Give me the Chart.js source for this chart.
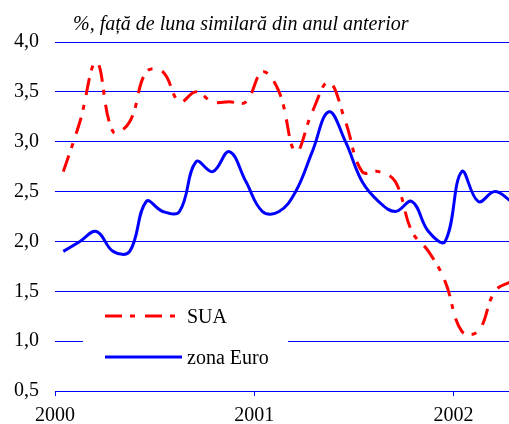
<!DOCTYPE html>
<html>
<head>
<meta charset="utf-8">
<script src="https://cdn.jsdelivr.net/npm/chart.js@4/dist/chart.umd.min.js"></script>
<style>
  html, body { margin: 0; padding: 0; background: #fff; }
  #wrap { width: 509px; height: 424px; position: relative; }
</style>
</head>
<body>
<div id="wrap"><canvas id="cpiChart"></canvas></div>
<script>
// inflatie anuala, lunar ian 2000 - apr 2002
const months = [
  "2000-01","2000-02","2000-03","2000-04","2000-05","2000-06","2000-07","2000-08","2000-09","2000-10","2000-11","2000-12",
  "2001-01","2001-02","2001-03","2001-04","2001-05","2001-06","2001-07","2001-08","2001-09","2001-10","2001-11","2001-12",
  "2002-01","2002-02","2002-03","2002-04"
];
const sua  = [2.7,3.2,3.8,3.1,3.2,3.7,3.7,3.4,3.5,3.4,3.4,3.4, 3.7,3.5,2.9,3.3,3.6,3.2,2.7,2.7,2.6,2.1,1.9,1.6, 1.1,1.1,1.5,1.6];
const euro = [1.9,2.0,2.1,1.9,1.9,2.4,2.3,2.3,2.8,2.7,2.9,2.6, 2.3,2.3,2.5,2.9,3.3,3.0,2.6,2.4,2.3,2.4,2.1,2.0, 2.7,2.4,2.5,2.4];
const yearTicks = [2000, 2001, 2002];
const yTicks = [0.5, 1.0, 1.5, 2.0, 2.5, 3.0, 3.5, 4.0];
const title = "%, față de luna similară din anul anterior";

const FONT = '"Liberation Serif", "Times New Roman", serif';

// month string -> months since jan 2000, placed mid-month
function monthPos(m) {
  const [y, mo] = m.split("-").map(Number);
  return (y - 2000) * 12 + (mo - 1) + 0.5;
}
const toPoints = vals => vals.map((v, i) => ({ x: monthPos(months[i]), y: v }));

const titlePlugin = {
  id: "topTitle",
  afterDraw(chart) {
    const ctx = chart.ctx;
    ctx.save();
    ctx.font = "italic 20px " + FONT;
    ctx.fillStyle = "#000";
    ctx.textBaseline = "alphabetic";
    ctx.textAlign = "left";
    ctx.fillText(title, 73, 30);
    ctx.restore();
  }
};

const legendPlugin = {
  id: "innerLegend",
  afterDatasetsDraw(chart) {
    const ctx = chart.ctx;
    ctx.save();
    ctx.fillStyle = "#fff";
    ctx.fillRect(83, 300, 205, 72);
    const rows = [316, 357];
    chart.data.datasets.forEach((ds, i) => {
      const y = rows[i];
      ctx.beginPath();
      ctx.strokeStyle = ds.borderColor;
      ctx.lineWidth = ds.borderWidth;
      ctx.setLineDash(ds.borderDash || []);
      ctx.moveTo(105, y);
      ctx.lineTo(i === 0 ? 177 : 182, y);
      ctx.stroke();
      ctx.setLineDash([]);
      ctx.font = "20px " + FONT;
      ctx.fillStyle = "#000";
      ctx.textBaseline = "middle";
      ctx.fillText(ds.label, 187, y + 2);
    });
    ctx.restore();
  }
};

new Chart(document.getElementById("cpiChart"), {
  type: "line",
  data: {
    datasets: [
      {
        label: "SUA",
        data: toPoints(sua),
        borderColor: "#ff0000",
        borderWidth: 3,
        borderDash: [17, 8, 5, 10],
        pointRadius: 0,
        tension: 0.4,
        fill: false
      },
      {
        label: "zona Euro",
        data: toPoints(euro),
        borderColor: "#0000ff",
        borderWidth: 3,
        pointRadius: 0,
        tension: 0.4,
        fill: false
      }
    ]
  },
  options: {
    responsive: true,
    maintainAspectRatio: false,
    animation: false,
    layout: { padding: { top: 42, right: 0, left: 0, bottom: 0 } },
    plugins: {
      legend: { display: false },
      tooltip: { enabled: false }
    },
    scales: {
      x: {
        type: "linear",
        min: 0,
        max: 27.35,
        afterFit: s => { s.height = 33; },
        afterBuildTicks: s => { s.ticks = yearTicks.map(y => ({ value: (y - 2000) * 12 })); },
        ticks: {
          padding: 8,
          color: "#000",
          font: { family: FONT, size: 20 },
          callback: v => String(2000 + Math.round(v / 12))
        },
        grid: { drawOnChartArea: false, drawTicks: true, tickLength: 5, color: "#0000ff" },
        border: { display: true, color: "#0000ff", width: 1 }
      },
      y: {
        min: 0.5,
        max: 4.0,
        afterFit: s => { s.width = 55; },
        afterBuildTicks: s => { s.ticks = yTicks.map(v => ({ value: v })); },
        ticks: {
          padding: 16,
          color: "#000",
          font: { family: FONT, size: 20 },
          callback: v => v.toFixed(1).replace(".", ",")
        },
        grid: { color: "#0000ff", lineWidth: 1, drawTicks: false },
        border: { display: false }
      }
    }
  },
  plugins: [titlePlugin, legendPlugin]
});
</script>
</body>
</html>
